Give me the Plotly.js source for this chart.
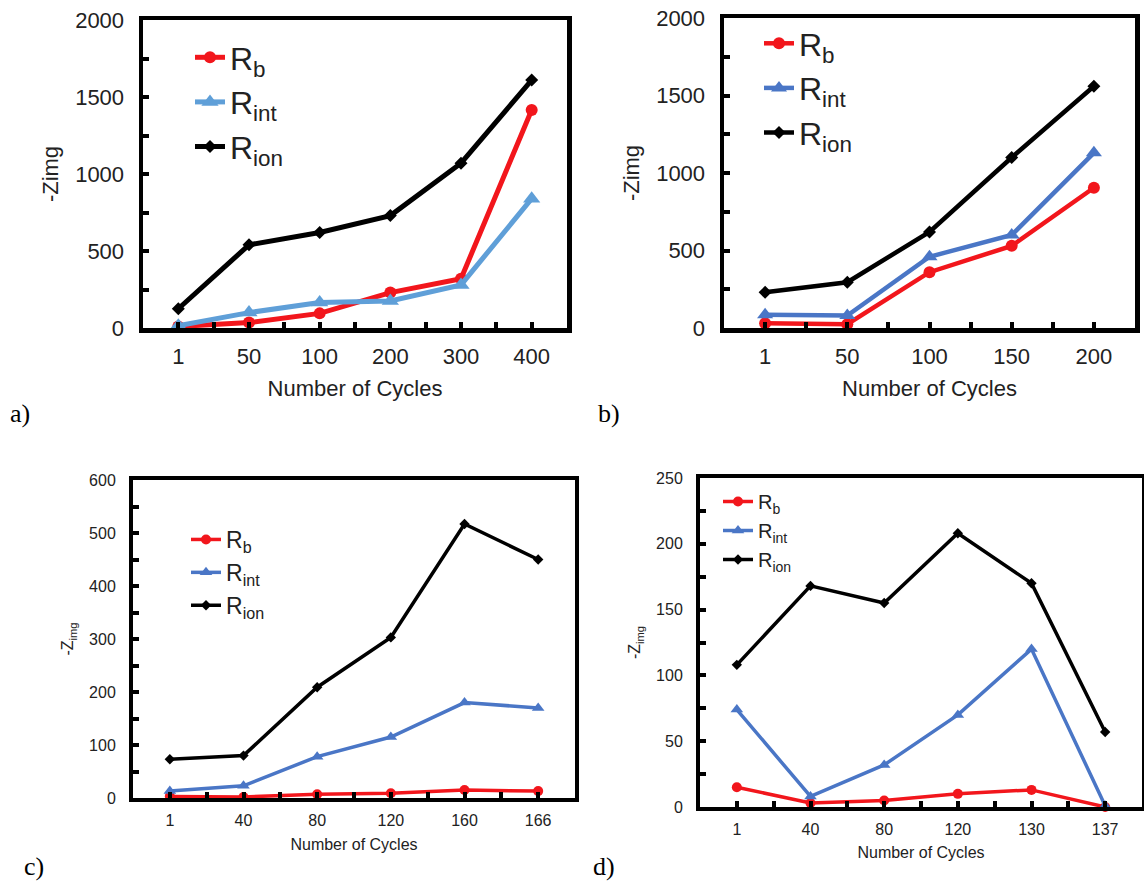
<!DOCTYPE html>
<html>
<head>
<meta charset="utf-8">
<script src="https://cdn.plot.ly/plotly-3.0.1.min.js"></script>
<style>
  html, body { margin: 0; padding: 0; background: #fff; }
  #chart { width: 1144px; height: 888px; }
</style>
</head>
<body>
<div id="chart"></div>
<script>
// ---------- data ----------
const seriesNames = ['R<sub>b</sub>', 'R<sub>int</sub>', 'R<sub>ion</sub>'];

const cyclesA = ['1', '50', '100', '200', '300', '400'];
const rbA   = [10, 35, 95, 230, 320, 1415];
const rintA = [15, 100, 165, 175, 280, 840];
const rionA = [125, 540, 620, 730, 1070, 1610];

const cyclesB = ['1', '50', '100', '150', '200'];
const rbB   = [30, 25, 360, 530, 905];
const rintB = [85, 80, 460, 600, 1130];
const rionB = [230, 295, 620, 1100, 1560];

const cyclesC = ['1', '40', '80', '120', '160', '166'];
const rbC   = [3, 2, 7, 9, 15, 13];
const rintC = [13, 23, 78, 115, 180, 170];
const rionC = [73, 80, 209, 303, 517, 450];

const cyclesD = ['1', '40', '80', '120', '130', '137'];
const rbD   = [15, 3, 5, 10, 13, 0];
const rintD = [74, 8, 32, 70, 120, 1];
const rionD = [108, 168, 155, 208, 170, 57];

const panelLabels = ['a)', 'b)', 'c)', 'd)'];

// ---------- styling ----------
const W = 1144, H = 888;
const SANS = 'Liberation Sans, Arial, Helvetica, sans-serif';
const SERIF = 'Liberation Serif, Times New Roman, serif';
const RED = '#f2161c';
const BLUE_A = '#5f9fd8';
const BLUE = '#4a76c6';

function px2x(p) { return p / W; }
function px2y(p) { return 1 - p / H; }

const panels = [
  { cats: cyclesA, rb: rbA, rint: rintA, rion: rionA, blue: BLUE_A,
    box: [143, 567, 20, 328], ymax: 2000, dtick: 500, lw: 5, ms: [12, 15, 10],
    ytitle: '-Zimg', fs: 22, titlefs: 22, legfs: 32, leg: [190, 30], ax: 4.5,
    xstand: 14, lab: [20, 413] },
  { cats: cyclesB, rb: rbB, rint: rintB, rion: rionB, blue: BLUE,
    box: [724, 1135, 18, 328], ymax: 2000, dtick: 500, lw: 4.5, ms: [12, 14, 10],
    ytitle: '-Zimg', fs: 22, titlefs: 22, legfs: 32, leg: [759, 16], ax: 4.5,
    xstand: 14, lab: [609, 413] },
  { cats: cyclesC, rb: rbC, rint: rintC, rion: rionC, blue: BLUE,
    box: [133, 575, 480, 798], ymax: 600, dtick: 100, lw: 3.5, ms: [10, 11, 8],
    ytitle: '-Z<sub>img</sub>', fs: 16, titlefs: 16, legfs: 23, leg: [186, 518], ax: 4,
    xstand: 12, lab: [34, 866] },
  { cats: cyclesD, rb: rbD, rint: rintD, rion: rionD, blue: BLUE,
    box: [700, 1142, 478, 807], ymax: 250, dtick: 50, lw: 3.5, ms: [10, 11, 8],
    ytitle: '-Z<sub>img</sub>', fs: 16, titlefs: 16, legfs: 20, leg: [718, 482], ax: 4,
    xstand: 11, lab: [604, 866] }
];

const data = [];
const layout = {
  width: W, height: H,
  margin: { l: 0, r: 0, t: 0, b: 0 },
  paper_bgcolor: '#fff', plot_bgcolor: '#fff',
  showlegend: true,
  annotations: []
};

panels.forEach((p, k) => {
  const n = k === 0 ? '' : String(k + 1);
  const xa = 'x' + n, ya = 'y' + n;
  const legName = 'legend' + n;
  const idx = p.cats.map((_, i) => i);
  const series = [p.rb, p.rint, p.rion];
  const colors = [RED, p.blue, '#000'];
  const symbols = ['circle', 'triangle-up', 'diamond'];
  series.forEach((vals, s) => {
    data.push({
      type: 'scatter', mode: 'lines+markers',
      x: idx, y: vals, xaxis: xa, yaxis: ya,
      name: seriesNames[s], legend: legName,
      line: { color: colors[s], width: p.lw },
      marker: { color: colors[s], symbol: symbols[s], size: p.ms[s] },
      cliponaxis: false, hoverinfo: 'skip'
    });
  });

  const [x0, x1, yTop, yBot] = p.box;
  layout['xaxis' + n] = {
    domain: [px2x(x0), px2x(x1)],
    anchor: ya,
    range: [-0.5, p.cats.length - 0.5],
    tickmode: 'array', tickvals: idx, ticktext: p.cats,
    ticks: 'inside', ticklen: 6, tickwidth: 4, tickcolor: '#000',
    minor: { tick0: 0.5, dtick: 1, ticks: 'inside', ticklen: 6, tickwidth: 4, tickcolor: '#000', showgrid: false },
    showline: true, linewidth: p.ax, linecolor: '#000', mirror: true,
    showgrid: false, zeroline: false,
    ticklabelstandoff: 5,
    tickfont: { family: SANS, size: p.fs, color: '#222' },
    title: { text: 'Number of Cycles', font: { family: SANS, size: p.titlefs, color: '#222' }, standoff: p.xstand },
    fixedrange: true
  };
  layout['yaxis' + n] = {
    domain: [px2y(yBot), px2y(yTop)],
    anchor: xa,
    range: [0, p.ymax], tick0: 0, dtick: p.dtick,
    ticks: 'inside', ticklen: 6, tickwidth: 4, tickcolor: '#000',
    minor: { dtick: p.dtick / 2, ticks: 'inside', ticklen: 6, tickwidth: 4, tickcolor: '#000', showgrid: false },
    showline: true, linewidth: p.ax, linecolor: '#000', mirror: true,
    showgrid: false, zeroline: false,
    ticklabelstandoff: 10,
    tickfont: { family: SANS, size: p.fs, color: '#222' },
    title: { text: p.ytitle, font: { family: SANS, size: p.titlefs, color: '#222' }, standoff: 12 },
    fixedrange: true
  };
  layout[legName] = {
    x: px2x(p.leg[0]), y: px2y(p.leg[1]),
    xanchor: 'left', yanchor: 'top',
    bgcolor: 'rgba(0,0,0,0)', borderwidth: 0,
    font: { family: SANS, size: p.legfs, color: '#222' },
    itemwidth: 30, tracegroupgap: 0
  };
  layout.annotations.push({
    xref: 'paper', yref: 'paper',
    x: px2x(p.lab[0]), y: px2y(p.lab[1]),
    xanchor: 'center', yanchor: 'middle',
    text: panelLabels[k], showarrow: false,
    font: { family: SERIF, size: 26, color: '#000' }
  });
});

Plotly.newPlot('chart', data, layout, { displayModeBar: false, staticPlot: true });
</script>
</body>
</html>
